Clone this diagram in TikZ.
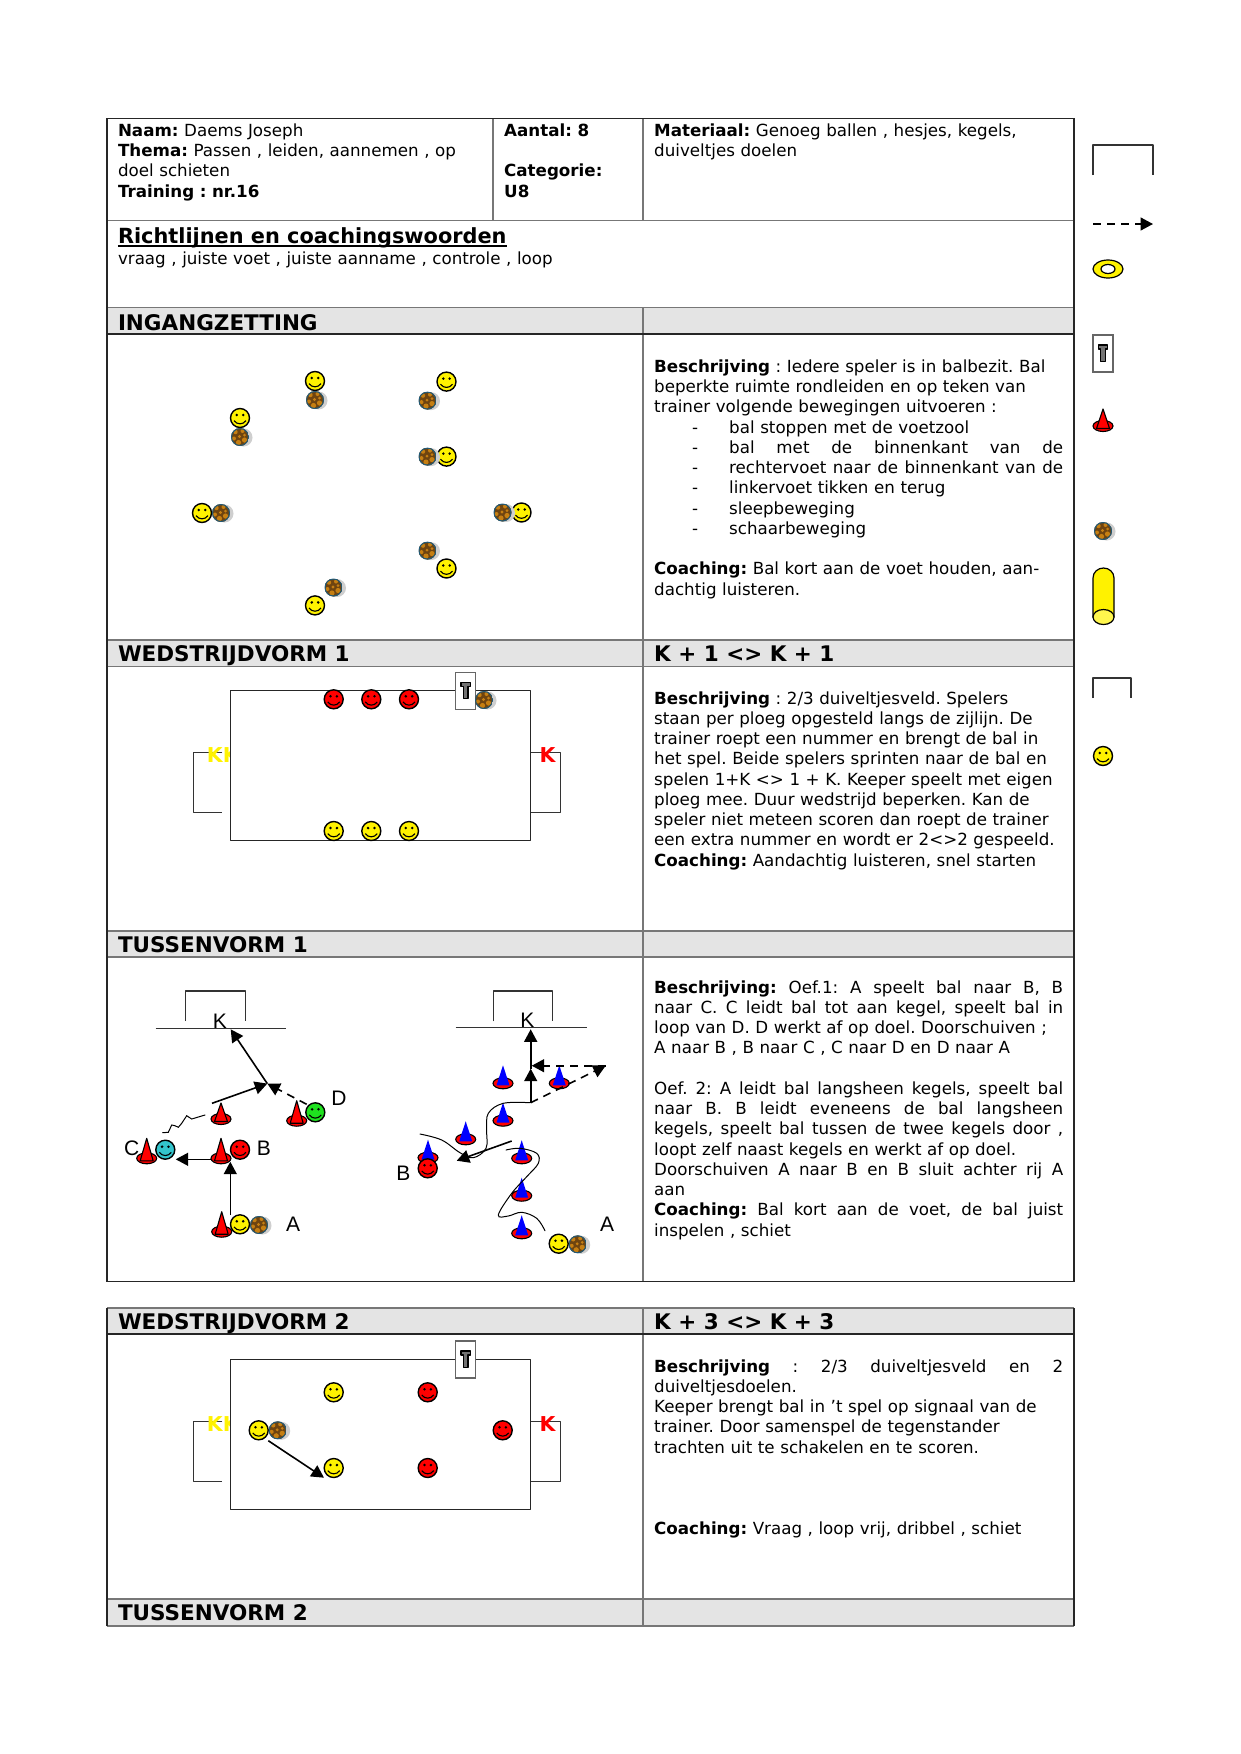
\documentclass[tikz,border=0pt]{standalone}
\usepackage{fontspec}
\setmainfont{DejaVu Sans}
\newfontfamily\arialf{Liberation Sans}
\usetikzlibrary{arrows.meta}
\newcommand\bodyf{\fontsize{16.7}{20.25}\selectfont\frenchspacing\spaceskip=.36em plus .6em minus .05em\relax}
\newcommand\headf{\fontsize{21.5}{24}\selectfont\bfseries}
\newcommand\J[1]{\leavevmode\hbox to 409pt{\spaceskip=.36em plus 1fil\relax #1}}
\newcommand\Li[1]{\makebox[75pt][l]{\hspace*{38pt}-}#1}
\newcommand\LJ[1]{\makebox[75pt][l]{\hspace*{38pt}-}\hbox to 334pt{\spaceskip=.36em plus 1fil\relax #1}}
\definecolor{headbg}{HTML}{E4E4E4}
\definecolor{grid}{HTML}{777777}
\definecolor{ballbase}{HTML}{6E4410}
\definecolor{ballpatch}{HTML}{C67F12}
\definecolor{ballrim}{HTML}{1F5A7A}
\definecolor{ballshadow}{HTML}{CFCFCF}
\definecolor{teal}{HTML}{33C4CC}
\definecolor{limeg}{HTML}{1FE01F}
\tikzset{
  gridline/.style={draw=grid,line width=1.4pt},
  edgeline/.style={draw=black!85,line width=1.4pt},
  body/.style={font=\bodyf,text width=440pt,inner sep=0pt,anchor=base west},
  head/.style={font=\headf,inner sep=0pt,anchor=base west},
  goalline/.style={draw=black!80,line width=1.3pt,line join=round},
  fieldline/.style={draw=black!85,line width=1.4pt,line join=round},
  pass/.style={draw=black,line width=1.6pt,-{Triangle[length=12.5pt,width=13pt]}},
  passd/.style={pass,dash pattern=on 8pt off 6pt},
  thin curve/.style={draw=black,line width=1pt,line cap=round},
  lab/.style={font=\arialf\fontsize{21}{21}\selectfont,inner sep=0pt,anchor=base},
  pics/smiley/.style={code={
    \draw[line width=1.4pt,fill=#1] (0,0) circle (9.5pt);
    \fill (-3.2,-3) circle (1.4pt) (3.2,-3) circle (1.4pt);
    \draw[line width=1.1pt] (-6,2.6) .. controls (-3,6.9) and (3,6.9) .. (6,2.6);
  }},
  pics/ball/.style={code={
    \fill[ballshadow] (3.5,0.5) circle (9pt);
    \begin{scope}
      \clip (0,0) circle (9pt);
      \fill[ballbase] (-9,-9) rectangle (9,9);
      \fill[ballpatch] (-4.5,-5) circle (2.2pt) (2.5,-6) circle (2pt) (-6,1.5) circle (2pt)
        (-1.5,5.5) circle (2.6pt) (4.5,3) circle (2.6pt) (-.5,-.5) circle (1.6pt) (4.5,-2) circle (1.5pt);
      \draw[ballrim,line width=1.2pt] (0,0) circle (8.6pt);
    \end{scope}
  }},
  pics/cone/.style={code={
    \draw[line width=1.1pt,fill=red] (0,0) ellipse [x radius=10pt,y radius=5.5pt];
    \draw[line width=1.1pt,fill=red,line join=round] (0,-#1) -- (-6.5,2.5) -- (6.5,2.5) -- cycle;
  }},
  pics/bluecone/.style={code={
    \draw[line width=1.1pt,fill=red] (0,0) ellipse [x radius=10pt,y radius=5.5pt];
    \fill[blue] (0,-#1) -- (-6.5,2) -- (6.5,2) -- cycle;
  }},
  pics/trainer/.style={code={
    \draw[draw=black!60,line width=1.2pt,fill=white] (-10,-18.5) rectangle (10,18.5);
    \draw[fill=black!55,line width=1.2pt,line join=round] (-4.7,-8.5) -- (4.7,-8.5) -- (4.7,-4.5) -- (2.2,-4.5) -- (2.2,8) -- (-2.2,8) -- (-2.2,-4.5) -- (-4.7,-4.5) -- cycle;
  }},
  pics/field/.style={code={
    \draw[goalline] (-8,62.5) -- (-37,62.5) -- (-37,122) -- (-8,122);
    \draw[goalline] (300,62.5) -- (330,62.5) -- (330,122) -- (300,122);
    \node[font=\fontsize{20.5}{24}\selectfont\bfseries,text=yellow,inner sep=0pt,anchor=base west] (-kk) at (-23.6,72.5) {KK};
    \node[font=\fontsize{20.5}{24}\selectfont\bfseries,text=red,inner sep=0pt,anchor=base west] (-k) at (309.2,72.5) {K};
    \draw[fieldline,fill=white] (0,0) rectangle (300,150);
  }}
}
\begin{document}
\begin{tikzpicture}[x=1pt,y=-1pt]
\useasboundingbox (0,0) rectangle (1241,1754);
\fill[white] (0,0) rectangle (1241,1754);
% header fills
\fill[headbg] (107,307.7) rectangle (1074,334);
\fill[headbg] (107,640) rectangle (1074,666.5);
\fill[headbg] (107,931) rectangle (1074,957);
\fill[headbg] (107,1308) rectangle (1074,1334);
\fill[headbg] (107,1599) rectangle (1074,1626);
% grid table 1
\draw[gridline] (493,118.7) -- (493,220.7);
\draw[gridline] (643,118.7) -- (643,220.7);
\draw[gridline] (643,307.7) -- (643,1281.7);
\draw[gridline] (107,220.7) -- (1074,220.7);
\draw[gridline] (107,307.7) -- (1074,307.7);
\draw[gridline] (107,640) -- (1074,640);
\draw[gridline] (107,666.5) -- (1074,666.5);
\draw[gridline] (107,931) -- (1074,931);
\draw[gridline] (107,957) -- (1074,957);
\draw[edgeline] (107,334) -- (1074,334);
\draw[edgeline] (107,1281.7) -- (107,118.7) -- (1074,118.7) -- (1074,1281.7) -- cycle;
% grid table 2
\draw[gridline] (643,1308) -- (643,1626);
\draw[gridline] (107,1308) -- (1074,1308);
\draw[gridline] (107,1599) -- (1074,1599);
\draw[gridline] (107,1626) -- (1074,1626);
\draw[edgeline] (107,1334) -- (1074,1334);
\draw[edgeline] (107,1626) -- (107,1308) (1074,1308) -- (1074,1626);

% table texts
\node[body] (t1) at (117.8,136.3) {\textbf{Naam:} Daems Joseph\\\textbf{Thema:} Passen , leiden, aannemen , op\\doel schieten\\\textbf{Training : nr.16}};
\node[body,text width=125pt] (t4) at (504,136.3) {\textbf{Aantal: 8}\\\mbox{}\\\textbf{Categorie:}\\\textbf{U8}};
\node[body] (t5) at (654,136.3) {\textbf{Materiaal:} Genoeg ballen , hesjes, kegels,\\duiveltjes doelen};
\node[font=\fontsize{20.85}{24}\selectfont\bfseries,inner sep=0pt,anchor=base west] (t6) at (117.8,243.3) {Richtlijnen en coachingswoorden};
\coordinate (ulA) at (117.8,245.8); \coordinate (ulB) at (t6.base east |- ulA);
\draw[line width=1.5pt] (ulA) -- (ulB);
\node[body] (t7) at (117.8,264) {vraag , juiste voet , juiste aanname , controle , loop};
\node[head] (h1) at (117.8,330.3) {INGANGZETTING};
\node[head] (h2) at (117.8,661.3) {WEDSTRIJDVORM 1};
\node[head] (h3) at (654,661.3) {K + 1 <> K + 1};
\node[head] (h4) at (117.8,952.3) {TUSSENVORM 1};
\node[head] (h5) at (117.8,1329.8) {WEDSTRIJDVORM 2};
\node[head] (h6) at (654,1329.8) {K + 3 <> K + 3};
\node[head] (h7) at (117.8,1620) {TUSSENVORM 2};

\node[body] (d1) at (654,372.3) {\textbf{Beschrijving} : Iedere speler is in balbezit. Bal\\
beperkte ruimte rondleiden en op teken van\\
trainer volgende bewegingen uitvoeren :\\
\Li{bal stoppen met de voetzool}\\
\LJ{bal met de binnenkant van de}\\
\LJ{rechtervoet naar de binnenkant van de}\\
\Li{linkervoet tikken en terug}\\
\Li{sleepbeweging}\\
\Li{schaarbeweging}\\
\mbox{}\\
\textbf{Coaching:} Bal kort aan de voet houden, aan-\\
dachtig luisteren.};
\node[body] (d2) at (654,704) {\textbf{Beschrijving} : 2/3 duiveltjesveld. Spelers\\
staan per ploeg opgesteld langs de zijlijn. De\\
trainer roept een nummer en brengt de bal in\\
het spel. Beide spelers sprinten naar de bal en\\
spelen 1+K <> 1 + K. Keeper speelt met eigen\\
ploeg mee. Duur wedstrijd beperken. Kan de\\
speler niet meteen scoren dan roept de trainer\\
een extra nummer en wordt er 2<>2 gespeeld.\\
\textbf{Coaching:} Aandachtig luisteren, snel starten};
\node[body] (d3) at (654,993) {\J{\textbf{Beschrijving:} Oef.1: A speelt bal naar B, B}\\
\J{naar C. C leidt bal tot aan kegel, speelt bal in}\\
loop van D. D werkt af op doel. Doorschuiven ;\\
A naar B , B naar C , C naar D en D naar A\\
\mbox{}\\
\J{Oef. 2: A leidt bal langsheen kegels, speelt bal}\\
\J{naar B. B leidt eveneens de bal langsheen}\\
\J{kegels, speelt bal tussen de twee kegels door ,}\\
loopt zelf naast kegels en werkt af op doel.\\
\J{Doorschuiven A naar B en B sluit achter rij A}\\
aan\\
\J{\textbf{Coaching:} Bal kort aan de voet, de bal juist}\\
inspelen , schiet};
\node[body] (d4) at (654,1372) {\J{\textbf{Beschrijving} : 2/3 duiveltjesveld en 2}\\
duiveltjesdoelen.\\
Keeper brengt bal in ’t spel op signaal van de\\
trainer. Door samenspel de tegenstander\\
trachten uit te schakelen en te scoren.\\
\mbox{}\\\mbox{}\\\mbox{}\\
\textbf{Coaching:} Vraag , loop vrij, dribbel , schiet};

% legend
\coordinate (lg1a) at (1093,175); \coordinate (lg1b) at (1093,145); \coordinate (lg1c) at (1153,145); \coordinate (lg1d) at (1153,175);
\draw[goalline] (lg1a) -- (lg1b) -- (lg1c) -- (lg1d);
\coordinate (lda) at (1093,224); \coordinate (ldb) at (1153,224);
\draw[passd] (lda) -- (ldb);
\draw[line width=1.2pt,fill=yellow,even odd rule] (1108,269) ellipse [x radius=15pt,y radius=9pt] (1108,269) ellipse [x radius=7pt,y radius=4.5pt];
\pic (ltr) at (1103,353.5) {trainer};
\pic (lcone) at (1103,426) {cone=17};
\pic (lball) at (1103,531) {ball};
\draw[line width=1.2pt,fill=yellow] (1093,578) .. controls (1093,572) and (1098,568) .. (1103.5,568) .. controls (1109,568) and (1114,572) .. (1114,578) -- (1114,617) -- (1093,617) -- cycle;
\draw[line width=1.2pt,fill=yellow!70!white] (1103.5,617) ellipse [x radius=10.5pt,y radius=7.5pt];
\coordinate (lg2a) at (1093,698); \coordinate (lg2b) at (1093,678); \coordinate (lg2c) at (1131,678); \coordinate (lg2d) at (1131,698);
\draw[goalline] (lg2a) -- (lg2b) -- (lg2c) -- (lg2d);
\pic (lsm) at (1103,756) {smiley=yellow};

% ingangzetting
\foreach \n/\x/\y in {a/315/381,b/240/418,c/202/513,d/446.5/381.6,e/446.5/456.6,f/521.5/512.5,g/446.5/568.5,h/315/605.4}
  \pic (is\n) at (\x,\y) {smiley=yellow};
\foreach \n/\x/\y in {a/315/400,b/240/437,c/221/513,d/427.5/400.6,e/427.5/456.6,f/502.5/512.5,g/427.5/550.6,h/333.5/587.5}
  \pic (ib\n) at (\x,\y) {ball};

% wedstrijdvorm 1
\pic (f1) at (230.3,690.3) {field};
\foreach \n/\x in {a/333.7,b/371.3,c/409}{
  \pic (w1r\n) at (\x,699.3) {smiley=red};
  \pic (w1y\n) at (\x,831) {smiley=yellow};
}
\pic (w1t) at (465.7,690.8) {trainer};
\pic (w1b) at (484,700) {ball};

% wedstrijdvorm 2
\pic (f2) at (230.3,1359.3) {field};
\foreach \n/\x/\y in {a/333.7/1392.3,b/333.7/1468,c/258.7/1430.3}
  \pic (w2y\n) at (\x,\y) {smiley=yellow};
\foreach \n/\x/\y in {a/427.7/1392.3,b/427.7/1468,c/502.7/1430.3}
  \pic (w2r\n) at (\x,\y) {smiley=red};
\pic (w2t) at (465.7,1359.5) {trainer};
\pic (w2b) at (277.7,1430.3) {ball};
\coordinate (w2s) at (268.3,1440.7); \coordinate (w2e) at (324,1477.7);
\draw[pass] (w2s) -- (w2e);

% tussenvorm left
\coordinate (g1a) at (185.3,1021); \coordinate (g1b) at (185.3,991); \coordinate (g1c) at (245.3,991); \coordinate (g1d) at (245.3,1021);
\draw[goalline] (g1a) -- (g1b) -- (g1c) -- (g1d);
\coordinate (l1a) at (155.7,1028.3); \coordinate (l1b) at (286,1028.3);
\draw[goalline] (l1a) -- (l1b);
\node[lab] (k1) at (220,1028) {K};
\node[lab] (ld) at (339,1105.5) {D};
\node[lab] (lc) at (131.7,1155) {C};
\node[lab] (lb) at (264,1155) {B};
\node[lab] (la) at (293,1231.5) {A};
\pic (c1) at (221,1119) {cone=16};
\pic (c2) at (296.7,1120.7) {cone=20};
\pic (c3) at (146.7,1158.3) {cone=20};
\pic (c4) at (221,1158.3) {cone=20};
\pic (c5) at (221.7,1231.7) {cone=20};
\pic (sd) at (315.3,1112.3) {smiley=limeg};
\pic (sc) at (165.3,1149.7) {smiley=teal};
\pic (sb) at (240,1149.7) {smiley=red};
\pic (sa) at (240,1224.3) {smiley=yellow};
\pic (ba) at (259,1225) {ball};
\coordinate (pA) at (230.3,1215); \coordinate (pB) at (230.3,1161.7);
\coordinate (pB2) at (211.7,1159.3); \coordinate (pC) at (175.7,1159.3);
\coordinate (pX) at (267.3,1083.6); \coordinate (pK) at (230.7,1029.3);
\coordinate (pM) at (212,1103.3); \coordinate (pD) at (306.7,1104.3);
\draw[pass] (pA) -- (pB);
\draw[pass] (pB2) -- (pC);
\draw[pass] (pX) -- (pK);
\draw[pass] (pM) -- (pX);
\draw[passd] (pD) -- (pX);
\draw[thin curve] (162.7,1132.7) -- (168.3,1132.3) -- (171.7,1125) -- (175,1125.7) -- (178.3,1127.3) -- (181.7,1123.3) -- (186.7,1115.7) -- (191.7,1119) -- (205,1115);

% tussenvorm right
\coordinate (g2a) at (493.3,1021.3); \coordinate (g2b) at (493.3,991); \coordinate (g2c) at (552.7,991); \coordinate (g2d) at (552.7,1021.3);
\draw[goalline] (g2a) -- (g2b) -- (g2c) -- (g2d);
\coordinate (l2a) at (455.7,1027.3); \coordinate (l2b) at (587,1027.3);
\draw[goalline] (l2a) -- (l2b);
\node[lab] (k2) at (527.3,1027) {K};
\node[lab] (lb2) at (403.3,1180.5) {B};
\node[lab] (la2) at (607,1231.5) {A};
\foreach \n/\x/\y in {a/503/1083.3,b/559.3/1083.3,c/503/1120.7,d/465.7/1139.3,e/428/1157.7,f/521.7/1158.3,g/521.7/1195.7,h/521.7/1233.3}
  \pic (bc\n) at (\x,\y) {bluecone=18};
\pic (sb2) at (427.7,1168.3) {smiley=red};
\pic (sa2) at (558.7,1243.7) {smiley=yellow};
\pic (ba2) at (577.7,1244.3) {ball};
\coordinate (q1) at (530.7,1102.7); \coordinate (q2) at (530.7,1068.7); \coordinate (q3) at (530.7,1029.3);
\coordinate (q4) at (605.7,1065.7); \coordinate (q5) at (531.7,1065.7);
\coordinate (q6) at (511.7,1141); \coordinate (q7) at (456.7,1160.7);
\draw[pass] (q1) -- (q2);
\draw[pass] (q2) -- (q3);
\draw[passd] (q1) -- (q4);
\draw[passd] (q4) -- (q5);
\draw[pass] (q6) -- (q7);
\draw[thin curve] plot[smooth,tension=.6] coordinates {(420,1134) (441.7,1140) (460,1152.7) (473.3,1157.7) (486,1148.3) (486.7,1130) (488.3,1113.3) (503.3,1103.3) (530,1102.7)};
\draw[thin curve] plot[smooth,tension=.6] coordinates {(506,1150) (520,1148.3) (536.7,1153.3) (538.3,1163.3) (526.7,1176.7) (511.7,1193.3) (498.3,1215) (508.3,1216) (521.7,1212.3) (536.7,1218.3) (545,1230.7)};
\end{tikzpicture}
\end{document}
